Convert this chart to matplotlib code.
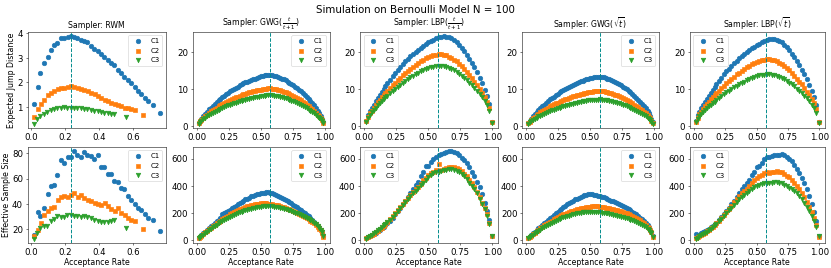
import matplotlib
matplotlib.use("Agg")
import matplotlib.pyplot as plt

# ---- RWM: acceptance rate differs per config ----
rwm_acc_c1 = [0.016, 0.038, 0.055, 0.075, 0.097, 0.115, 0.134, 0.154, 0.176, 0.196,
              0.215, 0.235, 0.253, 0.273, 0.292, 0.312, 0.332, 0.352, 0.372, 0.391,
              0.411, 0.431, 0.451, 0.470, 0.490, 0.510, 0.530, 0.549, 0.569, 0.589,
              0.609, 0.628, 0.648, 0.668, 0.688, 0.717, 0.757]
rwm_ejd_c1 = [1.14, 1.82, 2.40, 2.77, 3.04, 3.32, 3.51, 3.60, 3.79, 3.79,
              3.85, 3.88, 3.85, 3.80, 3.73, 3.68, 3.64, 3.47, 3.36, 3.28,
              3.15, 3.04, 2.93, 2.80, 2.69, 2.51, 2.37, 2.23, 2.10, 1.97,
              1.82, 1.66, 1.52, 1.38, 1.23, 1.07, 0.77]
rwm_ess_c1 = [15.7, 33.3, 30.0, 37.0, 47.7, 53.9, 55.0, 62.7, 74.7, 72.3,
              77.3, 77.0, 81.6, 78.7, 77.3, 81.0, 78.7, 78.0, 75.2, 79.0,
              69.0, 69.3, 63.5, 63.5, 57.9, 57.3, 52.5, 52.0, 46.4, 43.2,
              39.7, 36.5, 35.2, 32.0, 28.5, 27.2, 18.7]

rwm_acc_c2 = [0.016, 0.038, 0.057, 0.077, 0.097, 0.117, 0.136, 0.156, 0.176, 0.196,
              0.215, 0.235, 0.255, 0.275, 0.294, 0.314, 0.334, 0.354, 0.374, 0.393,
              0.413, 0.433, 0.453, 0.472, 0.492, 0.512, 0.532, 0.551, 0.571, 0.591,
              0.611, 0.660]
rwm_ejd_c2 = [0.60, 0.91, 1.14, 1.30, 1.47, 1.57, 1.67, 1.72, 1.76, 1.78,
              1.82, 1.85, 1.82, 1.78, 1.74, 1.68, 1.64, 1.57, 1.51, 1.44,
              1.37, 1.30, 1.25, 1.18, 1.11, 1.07, 1.03, 0.98, 0.95, 0.91,
              0.87, 0.68]
rwm_ess_c2 = [14.4, 19.2, 24.5, 31.2, 34.4, 37.1, 37.9, 42.7, 45.3, 46.4,
              45.3, 47.2, 48.5, 45.3, 46.7, 44.5, 43.2, 42.4, 40.5, 39.7,
              38.7, 40.3, 38.1, 36.0, 34.7, 36.5, 32.5, 31.2, 29.1, 27.2,
              26.4, 20.0]

rwm_acc_c3 = [0.016, 0.036, 0.055, 0.075, 0.095, 0.115, 0.134, 0.154, 0.174, 0.194,
              0.213, 0.233, 0.253, 0.273, 0.292, 0.312, 0.332, 0.352, 0.372, 0.391,
              0.411, 0.431, 0.451, 0.470, 0.490, 0.559]
rwm_ejd_c3 = [0.33, 0.53, 0.64, 0.73, 0.80, 0.87, 0.91, 0.95, 0.98, 0.99,
              0.98, 0.98, 0.98, 0.96, 0.95, 0.94, 0.91, 0.88, 0.85, 0.83,
              0.80, 0.77, 0.75, 0.73, 0.71, 0.60]
rwm_ess_c3 = [12.5, 17.0, 21.0, 22.7, 22.4, 26.7, 28.0, 30.1, 29.6, 29.9,
              30.9, 31.2, 30.1, 30.7, 29.9, 30.4, 29.9, 28.5, 27.5, 26.7,
              25.9, 25.3, 25.6, 26.4, 27.2, 20.5]

# ---- GWG samplers ----
gwg_acc = [0.015, 0.025, 0.035, 0.05, 0.065, 0.08, 0.095, 0.11, 0.125, 0.14,
           0.155, 0.17, 0.185, 0.2, 0.215, 0.23, 0.245, 0.26, 0.275, 0.29,
           0.305, 0.32, 0.335, 0.35, 0.365, 0.38, 0.395, 0.41, 0.425, 0.44,
           0.455, 0.47, 0.485, 0.5, 0.515, 0.53, 0.545, 0.56, 0.575, 0.59,
           0.605, 0.62, 0.635, 0.65, 0.665, 0.68, 0.695, 0.71, 0.725, 0.74,
           0.755, 0.77, 0.785, 0.8, 0.815, 0.83, 0.845, 0.86, 0.875, 0.89,
           0.905, 0.92, 0.935, 0.95, 0.96, 0.97, 0.98, 0.99]

gwg_frac_ejd_c1 = [0.9, 1.5, 2.0, 2.7, 3.3, 3.9, 4.5, 5.0, 5.5, 6.0,
                   6.5, 7.0, 7.4, 7.8, 8.2, 8.6, 9.0, 9.35, 9.7, 10.0,
                   10.35, 10.65, 10.95, 11.2, 11.5, 11.75, 12.0, 12.2, 12.4, 12.6,
                   12.8, 13.0, 13.15, 13.35, 13.5, 13.65, 13.75, 13.8, 13.75, 13.65,
                   13.55, 13.4, 13.2, 13.0, 12.8, 12.55, 12.3, 12.0, 11.7, 11.35,
                   11.0, 10.6, 10.2, 9.8, 9.35, 8.9, 8.4, 7.9, 7.35, 6.8,
                   6.2, 5.6, 4.9, 4.1, 3.5, 2.8, 2.0, 1.0]
gwg_frac_ejd_c2 = [0.8, 1.3, 1.7, 2.2, 2.7, 3.1, 3.55, 3.95, 4.3, 4.7,
                   5.0, 5.35, 5.65, 5.95, 6.25, 6.5, 6.8, 7.05, 7.3, 7.5,
                   7.75, 7.95, 8.15, 8.35, 8.55, 8.7, 8.9, 9.05, 9.2, 9.35,
                   9.5, 9.65, 9.75, 9.85, 9.95, 10.05, 10.1, 10.15, 10.15, 10.1,
                   10.0, 9.9, 9.75, 9.6, 9.45, 9.25, 9.05, 8.85, 8.6, 8.35,
                   8.1, 7.8, 7.5, 7.2, 6.9, 6.55, 6.2, 5.8, 5.45, 5.0,
                   4.6, 4.15, 3.65, 3.1, 2.7, 2.2, 1.6, 0.9]
gwg_frac_ejd_c3 = [0.7, 1.1, 1.45, 1.85, 2.25, 2.6, 2.95, 3.25, 3.55, 3.85,
                   4.1, 4.4, 4.65, 4.9, 5.1, 5.35, 5.55, 5.75, 5.95, 6.15,
                   6.3, 6.5, 6.65, 6.8, 6.95, 7.1, 7.25, 7.4, 7.5, 7.65,
                   7.75, 7.85, 7.95, 8.05, 8.1, 8.2, 8.25, 8.25, 8.3, 8.25,
                   8.2, 8.1, 8.0, 7.9, 7.75, 7.6, 7.45, 7.25, 7.05, 6.85,
                   6.65, 6.4, 6.15, 5.9, 5.65, 5.35, 5.05, 4.75, 4.45, 4.1,
                   3.75, 3.4, 3.0, 2.55, 2.2, 1.8, 1.3, 0.75]
gwg_frac_ess_c1 = [15, 25, 35, 50, 62, 75, 90, 103, 115, 128,
                   140, 152, 165, 195, 200, 207, 215, 226, 236, 246,
                   255, 265, 275, 283, 292, 300, 307, 314, 322, 327,
                   336, 338, 342, 345, 347, 351, 352, 353, 350, 346,
                   338, 333, 326, 318, 312, 305, 298, 290, 282, 272,
                   262, 253, 243, 232, 222, 211, 200, 188, 175, 162,
                   150, 136, 120, 102, 88, 72, 55, 28]
gwg_frac_ess_c2 = [14, 23, 32, 45, 57, 69, 81, 93, 104, 115,
                   125, 135, 145, 155, 164, 173, 182, 190, 198, 206,
                   213, 220, 227, 233, 239, 244, 249, 253, 257, 261,
                   264, 267, 269, 271, 272, 272, 271, 270, 268, 266,
                   263, 260, 256, 252, 248, 243, 238, 233, 228, 222,
                   216, 210, 203, 196, 189, 181, 173, 164, 155, 145,
                   135, 124, 112, 99, 86, 73, 56, 26]
gwg_frac_ess_c3 = [13, 21, 29, 41, 52, 63, 74, 85, 95, 105,
                   115, 124, 133, 142, 150, 158, 166, 173, 180, 187,
                   193, 199, 205, 210, 215, 220, 224, 228, 232, 236,
                   239, 242, 245, 247, 249, 250, 251, 251, 250, 249,
                   247, 245, 242, 239, 236, 232, 228, 224, 219, 214,
                   209, 204, 198, 192, 186, 179, 172, 164, 156, 147,
                   138, 128, 116, 103, 90, 77, 60, 28]

gwg_sqrt_ejd_c1 = [0.9, 1.45, 1.95, 2.6, 3.2, 3.8, 4.35, 4.85, 5.35, 5.8,
                   6.3, 6.8, 7.2, 7.55, 7.95, 8.35, 8.7, 9.05, 9.4, 9.7,
                   10.05, 10.35, 10.6, 10.85, 11.15, 11.4, 11.65, 11.85, 12.05, 12.2,
                   12.4, 12.6, 12.75, 12.9, 13.0, 13.1, 13.2, 13.25, 13.3, 13.25,
                   13.15, 13.0, 12.8, 12.6, 12.4, 12.2, 11.95, 11.65, 11.35, 11.0,
                   10.65, 10.3, 9.9, 9.5, 9.05, 8.65, 8.15, 7.65, 7.15, 6.6,
                   6.0, 5.45, 4.75, 4.0, 3.4, 2.7, 1.95, 1.0]
gwg_sqrt_ejd_c2 = [0.8, 1.2, 1.6, 2.1, 2.5, 2.9, 3.3, 3.7, 4.0, 4.4,
                   4.7, 5.0, 5.3, 5.55, 5.85, 6.1, 6.35, 6.55, 6.8, 7.0,
                   7.2, 7.4, 7.6, 7.8, 8.0, 8.15, 8.3, 8.45, 8.6, 8.75,
                   8.85, 9.0, 9.1, 9.2, 9.3, 9.35, 9.4, 9.45, 9.5, 9.45,
                   9.35, 9.25, 9.1, 8.95, 8.8, 8.65, 8.45, 8.25, 8.05, 7.8,
                   7.55, 7.3, 7.0, 6.75, 6.45, 6.1, 5.8, 5.4, 5.1, 4.7,
                   4.3, 3.9, 3.45, 2.9, 2.55, 2.1, 1.5, 0.85]
gwg_sqrt_ejd_c3 = [0.7, 1.0, 1.3, 1.65, 2.0, 2.3, 2.6, 2.85, 3.1, 3.35,
                   3.6, 3.85, 4.05, 4.25, 4.45, 4.65, 4.85, 5.0, 5.2, 5.35,
                   5.5, 5.65, 5.8, 5.95, 6.05, 6.2, 6.3, 6.45, 6.55, 6.65,
                   6.75, 6.85, 6.9, 7.0, 7.05, 7.1, 7.15, 7.15, 7.2, 7.15,
                   7.1, 7.05, 6.95, 6.85, 6.75, 6.6, 6.45, 6.3, 6.15, 5.95,
                   5.8, 5.55, 5.35, 5.15, 4.9, 4.65, 4.4, 4.15, 3.85, 3.55,
                   3.25, 2.95, 2.6, 2.2, 1.9, 1.55, 1.15, 0.7]
gwg_sqrt_ess_c1 = [16, 26, 36, 50, 62, 75, 88, 101, 113, 125,
                   137, 149, 161, 173, 185, 197, 210, 222, 233, 244,
                   255, 265, 275, 284, 292, 300, 307, 314, 320, 325,
                   330, 334, 337, 338, 337, 335, 332, 329, 325, 320,
                   315, 310, 304, 298, 292, 286, 280, 273, 266, 259,
                   252, 244, 236, 228, 219, 210, 200, 190, 179, 167,
                   155, 141, 126, 109, 95, 79, 58, 28]
gwg_sqrt_ess_c2 = [14, 23, 32, 45, 56, 67, 78, 89, 99, 109,
                   118, 127, 136, 145, 153, 161, 169, 176, 183, 190,
                   196, 202, 208, 213, 218, 223, 227, 231, 235, 238,
                   241, 244, 246, 248, 249, 250, 250, 249, 248, 246,
                   244, 241, 238, 235, 232, 228, 224, 220, 216, 212,
                   207, 202, 197, 191, 185, 178, 171, 163, 155, 146,
                   136, 126, 114, 100, 88, 75, 58, 27]
gwg_sqrt_ess_c3 = [13, 21, 29, 40, 50, 60, 70, 79, 88, 97,
                   105, 113, 121, 129, 136, 143, 150, 156, 162, 168,
                   173, 178, 182, 186, 190, 194, 197, 200, 203, 205,
                   207, 208, 209, 210, 210, 210, 209, 208, 206, 204,
                   202, 200, 197, 194, 191, 188, 185, 182, 178, 174,
                   170, 166, 161, 156, 151, 146, 140, 134, 127, 120,
                   112, 104, 94, 83, 74, 64, 50, 24]

# ---- LBP samplers ----
lbp_acc = [0.015, 0.03, 0.045, 0.06, 0.075, 0.09, 0.105, 0.12, 0.135, 0.15,
           0.165, 0.18, 0.2, 0.22, 0.24, 0.26, 0.28, 0.3, 0.32, 0.34,
           0.36, 0.38, 0.4, 0.42, 0.44, 0.46, 0.48, 0.5, 0.52, 0.54,
           0.56, 0.58, 0.6, 0.62, 0.64, 0.66, 0.68, 0.7, 0.72, 0.74,
           0.76, 0.78, 0.8, 0.82, 0.84, 0.86, 0.88, 0.9, 0.92, 0.94,
           0.96, 0.975, 0.995]

lbp_frac_ejd_c1 = [1.5, 3.0, 4.0, 4.9, 5.8, 6.7, 7.5, 8.4, 9.2, 10.0,
                   10.8, 11.5, 12.5, 13.4, 14.3, 15.1, 15.9, 16.7, 17.4, 18.1,
                   18.8, 19.4, 20.0, 20.6, 21.1, 21.6, 22.1, 22.5, 22.9, 23.3,
                   23.6, 23.9, 24.1, 24.2, 24.1, 23.9, 23.6, 23.2, 22.6, 21.9,
                   21.1, 20.2, 19.2, 18.1, 17.0, 15.8, 14.5, 13.0, 11.5, 9.8,
                   8.0, 6.0, 1.0]
lbp_frac_ejd_c2 = [1.3, 2.5, 3.4, 4.2, 5.0, 5.7, 6.4, 7.1, 7.7, 8.3,
                   8.9, 9.5, 10.2, 11.0, 11.7, 12.4, 13.0, 13.7, 14.3, 14.9,
                   15.5, 16.0, 16.5, 17.0, 17.4, 17.8, 18.2, 18.5, 18.8, 19.0,
                   19.2, 19.3, 19.3, 19.2, 19.0, 18.7, 18.4, 17.9, 17.4, 16.8,
                   16.1, 15.4, 14.6, 13.8, 12.9, 12.0, 11.0, 10.0, 8.9, 7.8,
                   6.6, 5.0, 1.0]
lbp_frac_ejd_c3 = [1.2, 2.2, 3.0, 3.7, 4.4, 5.0, 5.6, 6.2, 6.7, 7.2,
                   7.7, 8.2, 8.8, 9.4, 10.0, 10.6, 11.1, 11.7, 12.2, 12.7,
                   13.2, 13.6, 14.0, 14.4, 14.8, 15.1, 15.4, 15.7, 15.9, 16.0,
                   16.1, 16.2, 16.2, 16.1, 16.0, 15.7, 15.4, 15.0, 14.6, 14.1,
                   13.6, 13.0, 12.4, 11.7, 11.0, 10.3, 9.5, 8.7, 7.8, 6.8,
                   5.7, 4.2, 0.9]
lbp_frac_ess_c1 = [15, 22, 30, 38, 47, 56, 66, 77, 88, 100,
                   112, 126, 145, 166, 190, 214, 240, 266, 292, 318,
                   345, 375, 405, 432, 470, 500, 545, 550, 575, 600,
                   615, 625, 635, 645, 652, 655, 655, 650, 640, 625,
                   608, 590, 565, 540, 505, 470, 430, 395, 340, 275,
                   216, 148, 30]
lbp_frac_ess_c2 = [20, 25, 32, 40, 48, 58, 68, 80, 92, 105,
                   120, 135, 155, 180, 200, 222, 245, 265, 288, 310,
                   332, 355, 375, 395, 415, 440, 460, 480, 495, 505,
                   515, 560, 520, 528, 535, 540, 542, 540, 535, 522,
                   510, 490, 470, 445, 420, 390, 355, 315, 275, 240,
                   190, 125, 30]
lbp_frac_ess_c3 = [12, 22, 30, 40, 50, 60, 72, 85, 98, 110,
                   122, 135, 152, 172, 192, 215, 235, 258, 280, 300,
                   322, 345, 365, 385, 405, 425, 445, 465, 480, 492,
                   500, 505, 510, 515, 520, 525, 522, 520, 512, 500,
                   488, 470, 450, 425, 400, 375, 345, 305, 265, 230,
                   180, 120, 28]

lbp_sqrt_ejd_c1 = [1.5, 2.9, 3.9, 4.8, 5.6, 6.5, 7.3, 8.1, 8.9, 9.7,
                   10.5, 11.2, 12.1, 13.0, 13.9, 14.7, 15.4, 16.2, 16.9, 17.6,
                   18.2, 18.8, 19.4, 20.0, 20.5, 21.0, 21.4, 21.8, 22.2, 22.6,
                   22.9, 23.2, 23.4, 23.5, 23.4, 23.2, 22.9, 22.5, 21.9, 21.2,
                   20.4, 19.5, 18.6, 17.5, 16.4, 15.2, 14.0, 12.6, 11.1, 9.5,
                   7.8, 5.8, 1.0]
lbp_sqrt_ejd_c2 = [1.2, 2.3, 3.2, 3.9, 4.6, 5.3, 6.0, 6.6, 7.2, 7.7,
                   8.3, 8.8, 9.5, 10.2, 10.9, 11.5, 12.1, 12.7, 13.3, 13.9,
                   14.4, 14.9, 15.3, 15.8, 16.2, 16.6, 16.9, 17.2, 17.5, 17.7,
                   17.9, 18.0, 18.0, 17.9, 17.7, 17.4, 17.1, 16.7, 16.2, 15.6,
                   15.0, 14.3, 13.6, 12.8, 12.0, 11.2, 10.2, 9.3, 8.3, 7.3,
                   6.1, 4.7, 1.0]
lbp_sqrt_ejd_c3 = [1.0, 1.9, 2.6, 3.2, 3.8, 4.3, 4.8, 5.3, 5.8, 6.2,
                   6.6, 7.1, 7.6, 8.1, 8.6, 9.1, 9.5, 10.1, 10.5, 10.9,
                   11.4, 11.7, 12.0, 12.4, 12.7, 13.0, 13.2, 13.5, 13.7, 13.8,
                   13.8, 13.9, 13.9, 13.8, 13.8, 13.5, 13.2, 12.9, 12.6, 12.1,
                   11.7, 11.2, 10.7, 10.1, 9.5, 8.9, 8.2, 7.5, 6.7, 5.8,
                   4.9, 3.6, 0.8]
lbp_sqrt_ess_c1 = [45, 38, 42, 50, 58, 66, 75, 85, 95, 106,
                   118, 130, 148, 168, 195, 218, 240, 265, 290, 320,
                   350, 375, 400, 425, 440, 480, 505, 540, 550, 565,
                   600, 615, 610, 620, 625, 628, 630, 635, 628, 615,
                   600, 580, 555, 525, 495, 460, 420, 375, 325, 265,
                   210, 145, 30]
lbp_sqrt_ess_c2 = [15, 22, 30, 38, 46, 55, 65, 76, 88, 100,
                   113, 125, 145, 165, 188, 210, 232, 255, 278, 300,
                   322, 345, 365, 380, 400, 420, 440, 460, 470, 480,
                   495, 500, 498, 502, 505, 508, 505, 500, 490, 475,
                   462, 445, 425, 400, 375, 345, 315, 280, 245, 210,
                   165, 115, 25]
lbp_sqrt_ess_c3 = [12, 20, 28, 36, 45, 54, 64, 75, 86, 98,
                   110, 122, 140, 160, 180, 200, 220, 240, 260, 280,
                   300, 318, 335, 350, 365, 380, 392, 400, 408, 412,
                   418, 420, 418, 422, 428, 430, 425, 420, 410, 400,
                   388, 375, 360, 345, 325, 300, 275, 248, 215, 180,
                   145, 100, 28]

titles = ["Sampler: RWM", r"Sampler: GWG($\frac{t}{t+1}$)", r"Sampler: LBP($\frac{t}{t+1}$)",
          r"Sampler: GWG($\sqrt{t}$)", r"Sampler: LBP($\sqrt{t}$)"]
opt_rate = [0.234, 0.574, 0.574, 0.574, 0.574]
legend_loc = ["upper right", "upper right", "upper left", "upper right", "upper left"]

acc_sets = [[rwm_acc_c1, rwm_acc_c2, rwm_acc_c3],
            [gwg_acc, gwg_acc, gwg_acc],
            [lbp_acc, lbp_acc, lbp_acc],
            [gwg_acc, gwg_acc, gwg_acc],
            [lbp_acc, lbp_acc, lbp_acc]]
ejd_sets = [[rwm_ejd_c1, rwm_ejd_c2, rwm_ejd_c3],
            [gwg_frac_ejd_c1, gwg_frac_ejd_c2, gwg_frac_ejd_c3],
            [lbp_frac_ejd_c1, lbp_frac_ejd_c2, lbp_frac_ejd_c3],
            [gwg_sqrt_ejd_c1, gwg_sqrt_ejd_c2, gwg_sqrt_ejd_c3],
            [lbp_sqrt_ejd_c1, lbp_sqrt_ejd_c2, lbp_sqrt_ejd_c3]]
ess_sets = [[rwm_ess_c1, rwm_ess_c2, rwm_ess_c3],
            [gwg_frac_ess_c1, gwg_frac_ess_c2, gwg_frac_ess_c3],
            [lbp_frac_ess_c1, lbp_frac_ess_c2, lbp_frac_ess_c3],
            [gwg_sqrt_ess_c1, gwg_sqrt_ess_c2, gwg_sqrt_ess_c3],
            [lbp_sqrt_ess_c1, lbp_sqrt_ess_c2, lbp_sqrt_ess_c3]]

labels = ["C1", "C2", "C3"]
markers = ["o", "s", "v"]
colors = ["tab:blue", "tab:orange", "tab:green"]

plt.rcParams.update({"xtick.labelsize": 13.5, "ytick.labelsize": 13.5,
                     "axes.labelsize": 12, "axes.titlesize": 12,
                     "legend.fontsize": 11})

W, H = 831, 268
fig = plt.figure(figsize=(18, 5.81), dpi=W / 18)

# axes placement in pixels (left, width) and (top, height)
col_px = [(27.5, 138.5), (192.5, 137), (360, 138), (522, 137), (689.5, 135.5)]
row_px = [(32, 96), (147, 96)]

for r, (top, h) in enumerate(row_px):
    share = None
    for c, (left, w) in enumerate(col_px):
        rect = [left / W, (H - top - h) / H, w / W, h / H]
        if c >= 2:
            ax = fig.add_axes(rect, sharey=share)
        else:
            ax = fig.add_axes(rect)
        if c == 1:
            share = ax
        data = ejd_sets[c] if r == 0 else ess_sets[c]
        for k in range(3):
            ax.scatter(acc_sets[c][k], data[k], s=50, marker=markers[k],
                       color=colors[k], label=labels[k])
        ax.axvline(opt_rate[c], linestyle="--", color="darkcyan")
        ax.legend(loc=legend_loc[c])
        if r == 0:
            ax.set_title(titles[c])
        else:
            ax.set_xlabel("Acceptance Rate", labelpad=2)
        if c == 0:
            ax.set_ylabel("Expected Jump Distance" if r == 0 else "Effective Sample Size",
                          labelpad=2)

fig.suptitle("Simulation on Bernoulli Model N = 100", fontsize=16)
fig.savefig("out.png", dpi=W / 18)
